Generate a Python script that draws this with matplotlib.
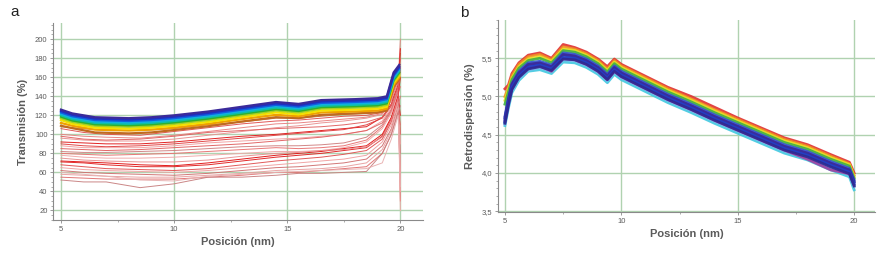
import matplotlib
matplotlib.use('Agg')
import matplotlib.pyplot as plt
from matplotlib.ticker import MultipleLocator, FixedLocator

plt.rcParams['font.family'] = ['Liberation Sans', 'DejaVu Sans']

# ---- panel a: transmission profiles ----
x_band = [5.0, 5.5, 6.5, 8.0, 9.0, 10.0, 11.5, 13.0, 14.5, 15.5, 16.5, 18.0, 19.0, 19.4, 19.7, 19.95]
band_colors = ['#c06a20', '#f0a000', '#f5e000', '#a8d020', '#30b030',
               '#10c0a0', '#10b0e0', '#1060e0', '#2030c0', '#3b2a9a']
band_curves = [
    [109, 106.5, 102, 101, 102, 104.5, 108.5, 113.5, 118, 117, 120.5, 122, 123, 125, 150, 158],
    [112, 109, 105, 104, 105, 107, 111, 116, 120.5, 119, 123, 124, 125, 127, 152, 160],
    [115, 111, 107, 106, 107, 109, 113, 118, 123, 121, 125, 126, 127, 129, 154, 162],
    [117, 113, 109, 108, 109, 111, 115, 120, 125, 123, 127, 128, 129, 131, 155.5, 163.5],
    [118.5, 114.5, 110.5, 109.5, 110.5, 112.5, 116.5, 121.5, 126.5, 124.5, 128.5, 129.5, 130.5, 132.5, 157, 165],
    [120, 116, 112, 111, 112, 114, 118, 123, 128, 126, 130, 131, 132, 134, 158.5, 166.5],
    [121.5, 117.5, 113.5, 112.5, 113.5, 115.5, 119.5, 124.5, 129.5, 127.5, 131.5, 132.5, 133.5, 135.5, 160, 168],
    [123, 119, 115, 114, 115, 117, 121, 126, 131, 129, 133, 134, 135, 137, 161.5, 169.5],
    [124.5, 120.5, 116.5, 115.5, 116.5, 118.5, 122.5, 127.5, 132.5, 130.5, 134.5, 135.5, 136.5, 138.5, 163, 171],
    [126, 122, 118, 117, 118, 120, 124, 129, 134, 132, 136, 137, 138, 140, 165, 173],
]

x_red = [5.0, 6.0, 7.0, 8.5, 10.0, 11.5, 13.0, 14.5, 15.5, 16.5, 17.5, 18.5, 19.2, 19.6, 19.9, 20.0]
red_colors = ['#c07040', '#e05050', '#e88080', '#e89090', '#e01818', '#e04040',
              '#f0a0a0', '#e06060', '#d08080', '#e87070', '#f0a8a8', '#e01010',
              '#e02020', '#e89090', '#e05050', '#f0a0a0', '#d07070', '#e8a0a0',
              '#e07070', '#c88080', '#e8b0b0', '#e06060']
red_curves = [
    [108, 106, 104, 104, 106, 110, 113, 117, 117, 119, 121, 122, 124, 140, 160, 185],
    [106, 102, 100, 99, 103, 107, 111, 114, 115, 117, 119, 120, 123, 138, 158, 30],
    [100, 98, 97, 96, 99, 103, 107, 111, 112, 114, 116, 118, 122, 136, 155, 200],
    [96, 94, 93, 93, 95, 99, 103, 107, 109, 112, 114, 117, 121, 135, 150, 60],
    [92, 91, 90, 90, 92, 95, 98, 100, 102, 104, 106, 108, 118, 132, 152, 190],
    [90, 88, 87, 88, 90, 93, 96, 99, 101, 103, 105, 110, 117, 130, 150, 100],
    [88, 86, 86, 86, 88, 91, 93, 95, 96, 98, 100, 104, 114, 128, 148, 40],
    [85, 84, 83, 84, 86, 88, 90, 93, 95, 97, 100, 104, 112, 126, 146, 170],
    [82, 81, 81, 82, 83, 85, 87, 88, 88, 89, 91, 97, 110, 125, 145, 80],
    [80, 79, 78, 79, 80, 82, 84, 86, 85, 86, 88, 94, 108, 124, 144, 150],
    [78, 76, 75, 75, 76, 78, 80, 82, 82, 83, 86, 92, 106, 122, 142, 20],
    [72, 71, 70, 68, 67, 70, 74, 78, 80, 82, 85, 88, 100, 118, 140, 160],
    [71, 70, 68, 66, 66, 68, 72, 76, 78, 80, 83, 86, 98, 116, 140, 120],
    [75, 73, 72, 71, 71, 73, 77, 80, 81, 83, 84, 87, 97, 115, 138, 60],
    [68, 66, 64, 63, 62, 64, 68, 72, 74, 76, 79, 83, 95, 113, 135, 180],
    [65, 63, 62, 61, 60, 62, 65, 68, 70, 72, 74, 78, 92, 110, 134, 90],
    [62, 60, 59, 58, 57, 59, 62, 65, 66, 68, 70, 74, 88, 106, 130, 140],
    [58, 57, 56, 55, 55, 57, 59, 62, 63, 64, 66, 70, 84, 104, 128, 50],
    [55, 54, 53, 53, 53, 55, 57, 60, 60, 62, 64, 66, 80, 100, 124, 110],
    [52, 50, 50, 44, 48, 55, 55, 57, 59, 59, 60, 61, 80, 100, 122, 130],
    [60, 58, 56, 52, 51, 56, 58, 60, 61, 62, 63, 64, 70, 95, 120, 45],
    [98, 95, 94, 95, 98, 102, 104, 106, 107, 108, 110, 113, 118, 130, 150, 170],
]

# ---- panel b: backscattering profiles ----
x_back = [5.0, 5.15, 5.3, 5.6, 6.0, 6.5, 7.0, 7.5, 8.0, 8.5, 9.0, 9.4, 9.7, 10.0,
          11.0, 12.0, 13.0, 14.0, 15.0, 16.0, 17.0, 18.0, 19.0, 19.8, 20.0]
back_colors = ['#e03030', '#f09020', '#e8e020', '#40b040', '#40c8e0', '#80b0f0',
               '#20a0c0', '#a040a0', '#3050d0', '#2838b8', '#3a2a9a', '#2040c8', '#302890']
back_curves = [
    [5.10, 5.15, 5.30, 5.44, 5.54, 5.57, 5.50, 5.68, 5.64, 5.58, 5.49, 5.39, 5.49, 5.42, 5.27, 5.12, 5.00, 4.86, 4.72, 4.59, 4.46, 4.37, 4.24, 4.14, 4.00],
    [5.00, 5.12, 5.27, 5.42, 5.52, 5.55, 5.48, 5.65, 5.62, 5.56, 5.47, 5.36, 5.47, 5.40, 5.25, 5.10, 4.97, 4.83, 4.70, 4.57, 4.44, 4.35, 4.22, 4.12, 3.97],
    [4.95, 5.09, 5.24, 5.39, 5.49, 5.52, 5.46, 5.62, 5.60, 5.54, 5.45, 5.34, 5.45, 5.38, 5.23, 5.08, 4.95, 4.81, 4.68, 4.55, 4.42, 4.33, 4.20, 4.11, 3.95],
    [4.90, 5.06, 5.22, 5.37, 5.47, 5.50, 5.44, 5.60, 5.58, 5.52, 5.43, 5.32, 5.43, 5.36, 5.21, 5.06, 4.93, 4.79, 4.66, 4.53, 4.40, 4.31, 4.18, 4.09, 3.93],
    [4.62, 4.85, 5.05, 5.21, 5.33, 5.35, 5.30, 5.45, 5.44, 5.38, 5.29, 5.18, 5.29, 5.22, 5.07, 4.92, 4.79, 4.65, 4.52, 4.39, 4.26, 4.17, 4.04, 3.95, 3.78],
    [4.64, 4.88, 5.08, 5.24, 5.35, 5.38, 5.33, 5.48, 5.47, 5.41, 5.32, 5.21, 5.32, 5.25, 5.10, 4.95, 4.82, 4.68, 4.55, 4.42, 4.29, 4.20, 4.07, 3.98, 3.82],
    [4.66, 4.90, 5.10, 5.26, 5.37, 5.40, 5.35, 5.50, 5.49, 5.43, 5.34, 5.23, 5.34, 5.27, 5.12, 4.97, 4.84, 4.70, 4.57, 4.44, 4.31, 4.22, 4.09, 4.00, 3.84],
    [4.68, 4.92, 5.12, 5.28, 5.38, 5.40, 5.33, 5.50, 5.48, 5.42, 5.33, 5.22, 5.33, 5.26, 5.11, 4.96, 4.83, 4.69, 4.56, 4.43, 4.30, 4.18, 4.04, 3.99, 3.85],
    [4.74, 4.98, 5.17, 5.33, 5.44, 5.46, 5.41, 5.57, 5.55, 5.49, 5.40, 5.29, 5.40, 5.33, 5.18, 5.03, 4.90, 4.76, 4.63, 4.50, 4.37, 4.28, 4.15, 4.06, 3.91],
    [4.70, 4.95, 5.15, 5.30, 5.41, 5.43, 5.38, 5.54, 5.52, 5.46, 5.37, 5.26, 5.37, 5.30, 5.15, 5.00, 4.87, 4.73, 4.60, 4.47, 4.34, 4.25, 4.12, 4.03, 3.88],
    [4.72, 4.96, 5.16, 5.31, 5.42, 5.44, 5.39, 5.55, 5.53, 5.47, 5.38, 5.27, 5.38, 5.31, 5.16, 5.01, 4.88, 4.74, 4.61, 4.48, 4.35, 4.26, 4.13, 4.04, 3.89],
    [4.67, 4.92, 5.12, 5.27, 5.38, 5.41, 5.36, 5.51, 5.50, 5.44, 5.35, 5.24, 5.35, 5.28, 5.13, 4.98, 4.85, 4.71, 4.58, 4.45, 4.32, 4.23, 4.10, 4.01, 3.86],
    [4.65, 4.89, 5.09, 5.25, 5.36, 5.39, 5.34, 5.49, 5.48, 5.42, 5.33, 5.22, 5.33, 5.26, 5.11, 4.96, 4.83, 4.69, 4.56, 4.43, 4.30, 4.21, 4.08, 3.99, 3.83],
]

grid_col = '#b0d2b0'
txt_col = '#5a5a5a'

fig = plt.figure(figsize=(8.87, 2.59), dpi=100)
ax1 = fig.add_axes([0.0598, 0.1506, 0.4171, 0.7606])
ax2 = fig.add_axes([0.5614, 0.1815, 0.4251, 0.7413])

for ax in (ax1, ax2):
    for s in ('top', 'right'):
        ax.spines[s].set_visible(False)
    for s in ('left', 'bottom'):
        ax.spines[s].set_color('#8a8a8a')
        ax.spines[s].set_linewidth(0.8)
    ax.grid(True, which='major', color=grid_col, lw=1.0)
    ax.set_axisbelow(True)
    ax.tick_params(axis='both', which='major', labelsize=5.5, colors='#8a8a8a',
                   labelcolor=txt_col, length=2, width=0.6, pad=2)
    ax.tick_params(axis='both', which='minor', colors='#8a8a8a', length=1.5, width=0.5)
    ax.xaxis.set_major_locator(FixedLocator([5, 10, 15, 20]))
    ax.xaxis.set_minor_locator(FixedLocator([7.5, 12.5, 17.5]))
    ax.set_xlabel('Posición (nm)', fontsize=8, fontweight='bold', color=txt_col, labelpad=3)

# panel a
for c, col in zip(red_curves, red_colors):
    ax1.plot(x_red, c, color=col, lw=0.7, alpha=0.95)
for c, col in zip(band_curves, band_colors):
    ax1.plot(x_band, c, color=col, lw=1.6)
ax1.set_xlim(4.65, 21.0)
ax1.set_ylim(10, 217)
ax1.yaxis.set_major_locator(FixedLocator(list(range(20, 201, 20))))
ax1.yaxis.set_minor_locator(MultipleLocator(5))
ax1.set_ylabel('Transmisión (%)', fontsize=8, fontweight='bold', color=txt_col, labelpad=5)

# panel b
for c, col in zip(back_curves, back_colors):
    ax2.plot(x_back, c, color=col, lw=2.0, alpha=0.9)
ax2.set_xlim(4.7, 20.9)
ax2.set_ylim(3.49, 6.0)
ax2.yaxis.set_major_locator(FixedLocator([3.5, 4.0, 4.5, 5.0, 5.5]))
ax2.yaxis.set_minor_locator(MultipleLocator(0.1))
ax2.set_yticklabels(['3,5', '4,0', '4,5', '5,0', '5,5'])
ax2.set_ylabel('Retrodispersión (%)', fontsize=8, fontweight='bold', color=txt_col, labelpad=5)

fig.text(0.012, 0.94, 'a', fontsize=11, color='#222222', family='Liberation Sans')
fig.text(0.519, 0.935, 'b', fontsize=11, color='#222222', family='Liberation Sans')

fig.savefig('out.png', dpi=100)
